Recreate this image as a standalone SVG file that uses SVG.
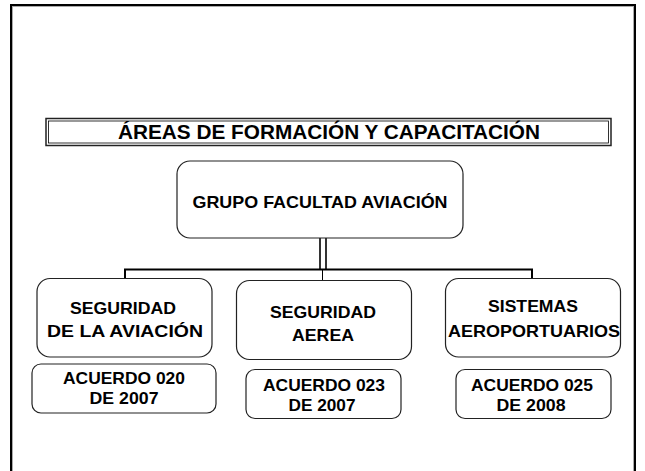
<svg xmlns="http://www.w3.org/2000/svg" width="645" height="471" viewBox="0 0 645 471">
<style>
text{font-family:"Liberation Sans",Arial,sans-serif;font-weight:bold;fill:#000;text-anchor:middle;font-size:16.5px}
.box{fill:#fff;stroke:#222;stroke-width:1.2}
.ln{stroke:#000;stroke-width:2;fill:none}
</style>
<rect width="645" height="471" fill="#fff"/>
<g id="frame">
<rect x="11" y="5" width="624" height="480" fill="none" stroke="#000" stroke-width="2"/>
<rect x="12.5" y="6.5" width="621" height="477" fill="none" stroke="#aaa" stroke-width="1"/>
</g>
<g id="title">
<rect x="46" y="118.5" width="565" height="27" fill="#fff" stroke="#222" stroke-width="1.5"/>
<rect x="48.5" y="121" width="560" height="22" fill="none" stroke="#000" stroke-width="0.8"/>
<text x="329" y="139" style="font-size:20px" textLength="422" lengthAdjust="spacingAndGlyphs">ÁREAS DE FORMACIÓN Y CAPACITACIÓN</text>
</g>
<g id="connectors">
<line stroke="#000" stroke-width="1.6" x1="320" y1="238" x2="320" y2="270"/>
<line stroke="#000" stroke-width="1.6" x1="326" y1="238" x2="326" y2="269"/>
<line class="ln" x1="124" y1="269.5" x2="533" y2="269.5"/>
<line class="ln" x1="125" y1="269" x2="125" y2="279"/>
<line class="ln" x1="532" y1="269" x2="532" y2="279"/>
<line x1="322.5" y1="270" x2="322.5" y2="281" stroke="#000" stroke-width="1"/>
</g>
<g id="grupo">
<rect class="box" x="177" y="161" width="286" height="77" rx="13"/>
<text x="320" y="207.5" textLength="255" lengthAdjust="spacingAndGlyphs">GRUPO FACULTAD AVIACIÓN</text>
</g>
<g id="seguridad-aviacion">
<rect class="box" x="37" y="278.5" width="175" height="78.5" rx="13"/>
<text x="123" y="314" textLength="106" lengthAdjust="spacingAndGlyphs">SEGURIDAD</text>
<text x="125" y="336.5" textLength="156" lengthAdjust="spacingAndGlyphs">DE LA AVIACIÓN</text>
</g>
<g id="seguridad-aerea">
<rect class="box" x="236.5" y="280.5" width="175" height="79" rx="13"/>
<text x="323" y="318" textLength="106" lengthAdjust="spacingAndGlyphs">SEGURIDAD</text>
<text x="323" y="341" textLength="62" lengthAdjust="spacingAndGlyphs">AEREA</text>
</g>
<g id="sistemas">
<rect class="box" x="445.5" y="278.5" width="175" height="78.5" rx="13"/>
<text x="533" y="312" textLength="90" lengthAdjust="spacingAndGlyphs">SISTEMAS</text>
<text x="534" y="336.5" textLength="172" lengthAdjust="spacingAndGlyphs">AEROPORTUARIOS</text>
</g>
<g id="acuerdo-020">
<rect class="box" x="32" y="364" width="184" height="49" rx="9"/>
<text x="124" y="384" textLength="122" lengthAdjust="spacingAndGlyphs">ACUERDO 020</text>
<text x="124" y="403.5" textLength="69" lengthAdjust="spacingAndGlyphs">DE 2007</text>
</g>
<g id="acuerdo-023">
<rect class="box" x="246" y="369.5" width="155" height="49" rx="9"/>
<text x="324" y="390.5" textLength="122" lengthAdjust="spacingAndGlyphs">ACUERDO 023</text>
<text x="322" y="410.5" textLength="67" lengthAdjust="spacingAndGlyphs">DE 2007</text>
</g>
<g id="acuerdo-025">
<rect class="box" x="456" y="369.5" width="155" height="49" rx="9"/>
<text x="532" y="390.5" textLength="122" lengthAdjust="spacingAndGlyphs">ACUERDO 025</text>
<text x="531" y="410.5" textLength="69" lengthAdjust="spacingAndGlyphs">DE 2008</text>
</g>
</svg>
